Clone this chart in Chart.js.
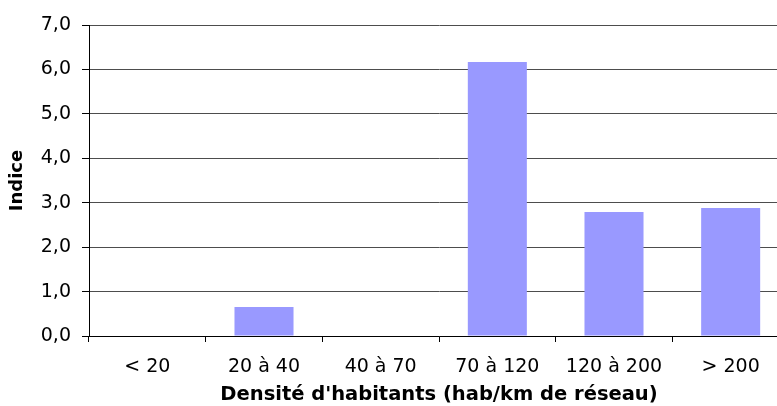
<!DOCTYPE html>
<html>
<head>
<meta charset="utf-8">
<script src="https://cdn.jsdelivr.net/npm/chart.js@4"></script>
<style>
  html, body { margin: 0; padding: 0; overflow: hidden; background: #fff; }
  #chart { display: block; }
</style>
</head>
<body>
<canvas id="chart" width="790" height="406"></canvas>
<script>
// categories + values
var categories = ['< 20', '20 à 40', '40 à 70', '70 à 120', '120 à 200', '> 200'];
var indice = [0, 0.65, 0, 6.17, 2.79, 2.88];
var yTicks = [0, 1, 2, 3, 4, 5, 6, 7];

var ctx = document.getElementById("chart");
var chart = new Chart(ctx, {
  type: 'bar',
  data: {
    labels: categories,
    datasets: [{
      data: indice,
      backgroundColor: "#9999FF",
      borderWidth: 0,
      barPercentage: 1,
      categoryPercentage: 0.506
    }]
  },
  options: {
    responsive: false,
    animation: {
      duration: 0
    },
    layout: {
      padding: { top: 25, right: 1, bottom: 0, left: 0 }
    },
    plugins: {
      legend: { display: false },
      tooltip: { enabled: false }
    },
    scales: {
      x: {
        grid: {
          offset: true,
          drawOnChartArea: false,
          drawTicks: true,
          tickLength: 6,
          tickColor: "#000"
        },
        border: { color: "#000", width: 1 },
        ticks: {
          color: "#000",
          padding: 14,
          font: { family: "DejaVu Sans", size: 19 }
        },
        title: {
          display: true,
          text: "Densité d'habitants (hab/km de réseau)",
          color: "#000",
          padding: { top: 0, bottom: -1 },
          font: { family: "DejaVu Sans", size: 19.5, weight: 'bold' }
        },
        afterFit: function (scale) {
          scale.height = 70;
        }
      },
      y: {
        min: 0,
        max: 7,
        afterBuildTicks: function (scale) {
          scale.ticks = yTicks.map(function (v) { return { value: v }; });
        },
        grid: {
          color: "#4d4d4d",
          tickColor: "#000",
          tickLength: 7,
          lineWidth: 1
        },
        border: { color: "#000", width: 1 },
        ticks: {
          color: "#000",
          padding: 11,
          font: { family: "DejaVu Sans", size: 19 },
          callback: function (v) {
            return v.toFixed(1).replace('.', ',');
          }
        },
        title: {
          display: true,
          text: "Indice",
          color: "#000",
          padding: { top: 7, bottom: 0 },
          font: { family: "DejaVu Sans", size: 18, weight: 'bold' }
        },
        afterFit: function (scale) {
          scale.width = 89;
        }
      }
    }
  }
});
</script>
</body>
</html>
